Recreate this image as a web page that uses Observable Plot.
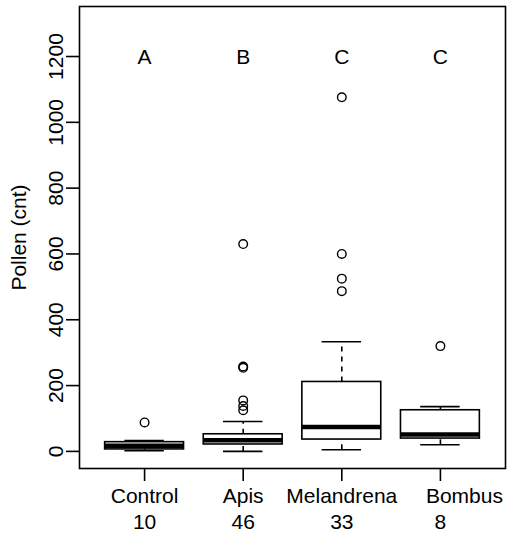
<!DOCTYPE html>
<html><head><meta charset="utf-8">
<script src="https://cdn.jsdelivr.net/npm/d3@7"></script>
<script src="https://cdn.jsdelivr.net/npm/@observablehq/plot@0.6"></script>
<style>body{margin:0;background:#fff}</style>
</head><body><div id="chart"></div>
<script>
const groups = ["Control", "Apis", "Melandrena", "Bombus"];
const counts = [10, 46, 33, 8];
const letters = ["A", "B", "C", "C"];
const lowerWhisker = [2, 0, 5, 20];
const q1 = [6, 21, 36, 39];
const median = [17, 34, 74, 51];
const q3 = [28, 52, 211, 125];
const upperWhisker = [33, 91, 333, 136];
const outliers = [[88], [630, 258, 254, 155, 138, 125], [1076, 600, 525, 487], [320]];
const yTicks = [0, 200, 400, 600, 800, 1000, 1200];
const letterY = 1200;

const rows = groups.map((g, k) => ({
  g, i: k + 1, n: counts[k], letter: letters[k],
  lw: lowerWhisker[k], q1: q1[k], med: median[k], q3: q3[k], uw: upperWhisker[k]
}));
const outRows = outliers.flatMap((vals, k) => vals.map(v => ({i: k + 1, v})));
const xTicks = rows.map(d => d.i);
const lastTick = xTicks[xTicks.length - 1];

const font = "'Liberation Sans', Arial, Helvetica, sans-serif";
const fs = 21;
const lw = 1.6;

const chart = Plot.plot({
  width: 511, height: 534,
  marginLeft: 79, marginRight: 6, marginTop: 6, marginBottom: 66,
  style: {fontFamily: font, fontSize: fs + "px", background: "white", color: "black"},
  x: {domain: [0.34, 4.66], label: null},
  y: {domain: [-52, 1352], label: null},
  marks: [
    Plot.axisY({ticks: yTicks, tickSize: 13, tickFormat: () => "", strokeWidth: lw, label: null}),
    Plot.text(yTicks, {y: d => d, text: d => String(d), frameAnchor: "left", dx: -17,
      rotate: -90, lineAnchor: "bottom", textAnchor: "middle", fontSize: fs}),
    Plot.text(["Pollen (cnt)"], {frameAnchor: "left", dx: -60, rotate: -90,
      lineAnchor: "middle", textAnchor: "middle", fontSize: fs}),
    Plot.axisX({ticks: xTicks, tickSize: 13, tickPadding: 7, strokeWidth: lw,
      tickFormat: d => d === lastTick ? "" : groups[d - 1], fontSize: fs, label: null}),
    Plot.axisX({ticks: [lastTick], tickSize: 0, tickPadding: 20, dx: 24,
      tickFormat: d => groups[d - 1], fontSize: fs, label: null}),
    Plot.axisX({ticks: xTicks, tickSize: 0, tickPadding: 46,
      tickFormat: d => String(counts[d - 1]), fontSize: fs, label: null}),
    // whiskers
    Plot.ruleX(rows, {x: "i", y1: "q3", y2: "uw", stroke: "black", strokeWidth: lw, strokeDasharray: "5,5"}),
    Plot.ruleX(rows, {x: "i", y1: "lw", y2: "q1", stroke: "black", strokeWidth: lw, strokeDasharray: "5,5"}),
    Plot.ruleY(rows, {y: "uw", x1: d => d.i - 0.2, x2: d => d.i + 0.2, stroke: "black", strokeWidth: lw}),
    Plot.ruleY(rows, {y: "lw", x1: d => d.i - 0.2, x2: d => d.i + 0.2, stroke: "black", strokeWidth: lw}),
    // boxes
    Plot.rect(rows, {x1: d => d.i - 0.4, x2: d => d.i + 0.4, y1: "q1", y2: "q3",
      fill: "white", stroke: "black", strokeWidth: lw}),
    Plot.ruleY(rows, {y: "med", x1: d => d.i - 0.4, x2: d => d.i + 0.4, stroke: "black", strokeWidth: 4.5}),
    // outliers
    Plot.dot(outRows, {x: "i", y: "v", r: 4.3, stroke: "black", strokeWidth: 1.4, fill: "none"}),
    // letters
    Plot.text(rows, {x: "i", y: () => letterY, text: "letter", fontSize: fs, fill: "black", dy: 1}),
    Plot.frame({stroke: "black", strokeWidth: lw})
  ]
});
document.getElementById("chart").appendChild(chart);
</script>
</body></html>
